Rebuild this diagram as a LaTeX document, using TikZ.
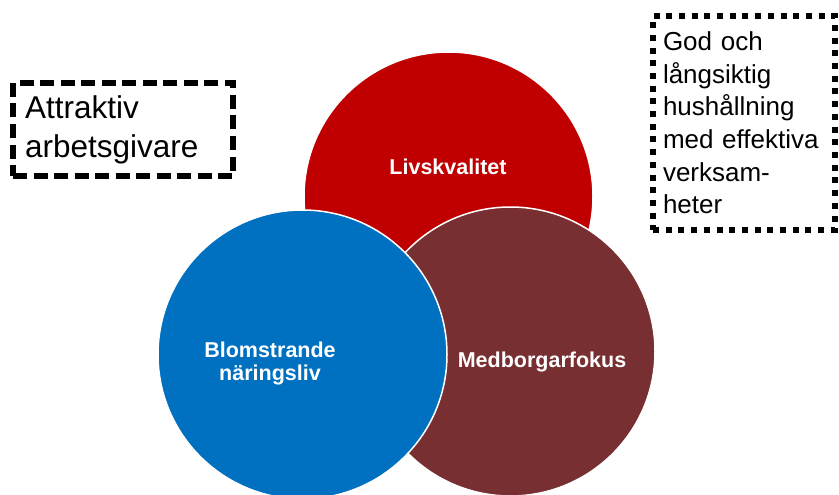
\documentclass[tikz,border=0pt]{standalone}
\usepackage{fontspec}
\setmainfont{Liberation Sans}
\usepackage{tikz}
\definecolor{livred}{HTML}{C00000}
\definecolor{medbrown}{HTML}{772F31}
\definecolor{blomblue}{HTML}{0070C0}

\begin{document}
\begin{tikzpicture}[x=1pt,y=-1pt,
    ring/.style={circle,draw=white,line width=1.5pt,minimum size=289pt,inner sep=0pt},
    lbl/.style={text=white,font=\bfseries\fontsize{21.5}{23}\selectfont,align=center},
    goal/.style={draw,line width=5.5pt,align=left,inner sep=0pt}]
    \useasboundingbox (0,0) rectangle (839,495);
    % red first, then brown, blue on top
    \node[ring,fill=livred] (liv) at (448.5,196.5) {};
    \node[ring,fill=medbrown] (med) at (510.5,351.5) {};
    \node[ring,fill=blomblue] (blom) at (302.5,354.5) {};
    \node[lbl] (livtxt) at (448,167) {Livskvalitet};
    \node[lbl] (medtxt) at (542,362) {Medborgarfokus};
    \node[lbl] (blomtxt) at (270,363) {Blomstrande\\n\"aringsliv};
    \node[goal,dash pattern=on 14pt off 6.5pt,minimum width=220pt,minimum height=93pt,
        text width=196pt,font=\fontsize{31.5}{39}\selectfont] (arb) at (123,129.5)
        {Attraktiv\\arbetsgivare};
    \node[goal,dash pattern=on 6pt off 6.7pt,minimum width=182pt,minimum height=214pt,
        text width=162pt,font=\fontsize{26}{32.6}\selectfont] (hus) at (744,123)
        {God och\\l\aa ngsiktig\\hush\aa llning\\med effektiva\\verksam-\\heter};
\end{tikzpicture}
\end{document}
